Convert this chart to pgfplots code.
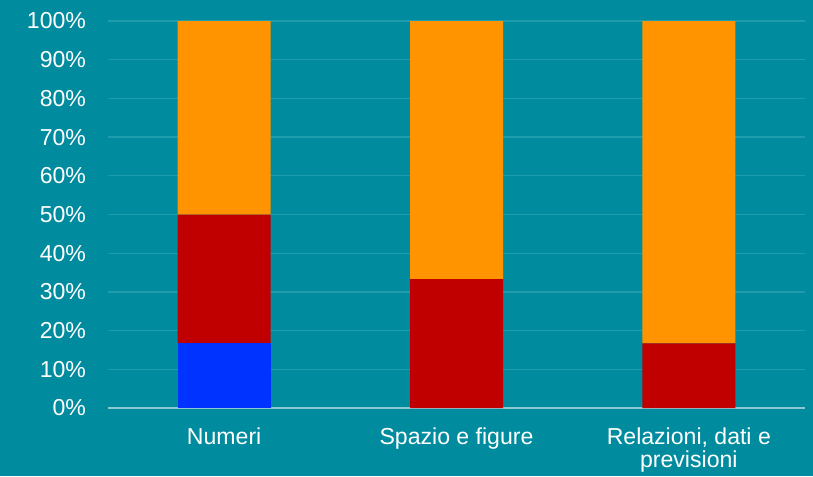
\documentclass[border=0pt]{standalone}
\usepackage{pgfplots}
\pgfplotsset{compat=1.18}
\usepackage{fontspec}
\setmainfont{Liberation Sans}
\definecolor{bg}{HTML}{008C9E}
\definecolor{gridc}{HTML}{1F9CAB}
\definecolor{basec}{HTML}{8CCAD2}
\definecolor{cor}{HTML}{FF9400}
\definecolor{cred}{HTML}{C00000}
\definecolor{cblue}{HTML}{0033FF}
\begin{document}
\begin{tikzpicture}
\fill[bg] (0,0) rectangle (609.75pt,357pt);
\begin{axis}[
  at={(81pt,51pt)}, anchor=south west,
  scale only axis, width=522.75pt, height=290.25pt,
  ybar stacked, bar width=69.75pt,
  xmin=-0.5, xmax=2.5, ymin=0, ymax=100,
  xtick={0,1,2},
  xticklabels={Numeri, Spazio e figure, {Relazioni, dati e\\previsioni}},
  ytick={0,10,...,100},
  yticklabel={\pgfmathprintnumber{\tick}\%},
  major tick length=0pt,
  axis line style={draw=none},
  ymajorgrids, grid style={gridc, line width=1pt},
  tick label style={white, font={\fontsize{17.3}{17.6}\selectfont}},
  yticklabel style={anchor=east, xshift=-13pt},
  xticklabel style={align=center, anchor=north, yshift=-11pt},
  /pgf/number format/assume math mode=true,
  clip=false,
]
\addplot[fill=cblue, draw=none] coordinates {(0,16.67) (1,0) (2,0)};
\addplot[fill=cred, draw=none] coordinates {(0,33.33) (1,33.33) (2,16.67)};
\addplot[fill=cor, draw=none] coordinates {(0,50) (1,66.67) (2,83.33)};
\draw[basec, line width=1.5pt] (rel axis cs:0,0) -- (rel axis cs:1,0);
\end{axis}
\end{tikzpicture}
\end{document}
